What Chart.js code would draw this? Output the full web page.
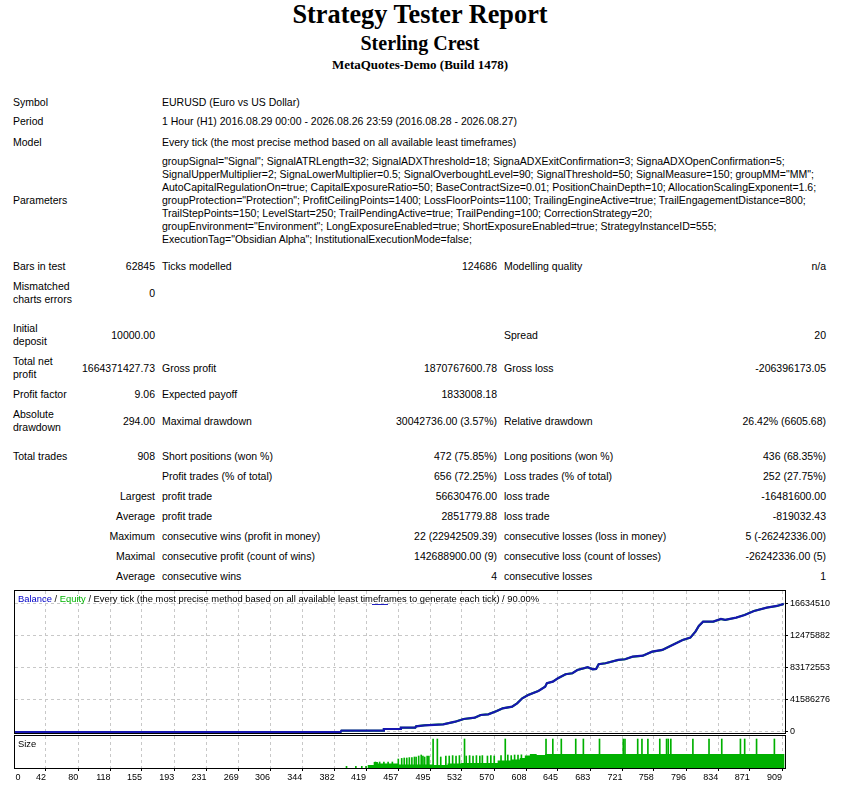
<!DOCTYPE html>
<html lang="en">
<head>
<meta charset="UTF-8">
<title>Strategy Tester Report</title>
<script src="https://cdn.jsdelivr.net/npm/chart.js@4.4.1/dist/chart.umd.min.js"></script>
<style>
  html, body { margin: 0; padding: 0; background: #fff; }
  body { position: relative; width: 848px; height: 786px; overflow: hidden;
         font-family: "Liberation Sans", Arial, sans-serif; font-size: 10.5px; color: #000; }
  .head { position: absolute; left: 0; width: 840px; text-align: center; line-height: 1; white-space: nowrap;
          font-family: "Liberation Serif", "Times New Roman", serif; font-weight: bold; }
  .cell { position: absolute; white-space: nowrap; line-height: 14px; }
  .cell.r { text-align: right; width: 300px; }
  canvas { position: absolute; left: 0; }
  .chartText { position: absolute; font-size: 9.4px; line-height: 12px; white-space: nowrap; }
</style>
</head>
<body>
<div class="head" style="top:1.5px;font-size:26.3px">Strategy Tester Report</div>
<div class="head" style="top:33px;font-size:20px">Sterling Crest</div>
<div class="head" style="top:57.5px;font-size:13px">MetaQuotes-Demo (Build 1478)</div>
<div id="report"></div>

<canvas id="balanceChart" width="848" height="166" style="top:580px"></canvas>
<canvas id="sizeChart" width="848" height="60" style="top:726px"></canvas>

<div class="chartText" style="left:18px;top:593px"><span style="color:#0000c8">Balance</span> / <span style="color:#00b400">Equity</span> / Every tick (the most precise method based on all available least timeframes to generate each tick) / 90.00%</div>
<div style="position:absolute;left:372px;top:604px;width:16px;height:1px;background:#2020c0"></div>
<div class="chartText" style="left:18px;top:738px">Size</div>
<div class="chartText" style="left:15.5px;top:771px;font-size:9px">0</div>

<script>
  // x axis: trade numbers shown under the size panel
  const tradeTicks = [0, 42, 80, 118, 155, 193, 231, 269, 306, 344, 382, 419, 457, 495, 532, 570, 608, 645, 683, 721, 758, 796, 834, 871, 909];
  // y axis of the balance panel (labels are cut to 8 digits in the report)
  const yTickValues = [0, 41586276, 83172552, 124758828, 166345104];
  const yTickLabels = ['0', '41586276', '83172553', '12475882', '16634510'];

  // balance curve
  const balanceTrades = [0, 389, 390, 439, 440, 459, 460, 477, 478, 488,
    510, 524, 534, 547, 554, 563, 573, 580, 591, 597,
    603, 610, 622, 630, 632, 639, 645, 654, 662, 668,
    680, 686, 690, 693, 701, 716, 724, 733, 745, 756,
    768, 780, 792, 801, 807, 811, 816, 828, 837, 842,
    855, 865, 876, 891, 903, 911];
  const balanceValues = [10000, 10000, 1700000, 1700000, 3900000, 3900000, 5600000, 5600000, 7400000, 8700000,
    10000000, 13400000, 16900000, 18600000, 22100000, 23000000, 27300000, 30800000, 32900000, 37300000,
    43800000, 48100000, 53300000, 58900000, 63300000, 65400000, 69800000, 75000000, 76300000, 80600000,
    84100000, 81500000, 81900000, 88000000, 89300000, 93600000, 94500000, 97900000, 99200000, 104400000,
    106600000, 113100000, 119600000, 122600000, 130400000, 137800000, 143400000, 143400000, 146900000, 145600000,
    148600000, 152100000, 157300000, 161600000, 163800000, 166400000];
  // equity runs under the balance line all the way
  const equityValues = balanceValues;

  // lot size: the running level and the single taller trades
  const levelTrades = [0, 421, 428, 433, 457, 498, 515, 531, 574, 590, 600, 606, 612, 620, 630, 912];
  const levelLots = [0, 0.15, 0.30, 0.22, 0.17, 0.15, 0.22, 0.25, 0.38, 0.42, 0.50, 0.62, 0.70, 0.65, 0.70, 0.70];
  const spikeTrades = [396, 407, 414, 419, 430, 435, 440, 445, 450,
    457, 461, 464, 467, 470, 473, 476, 478, 481, 484, 486, 488, 491, 493,
    498, 503, 507, 513, 517, 521, 525, 529, 535,
    537, 541, 545, 549, 553, 556, 562, 566, 570, 578, 583,
    586, 590, 594, 598, 602,
    631, 639, 649, 666, 675, 694, 722, 724, 739, 744, 751, 765, 773, 775, 778, 804, 823, 838, 860, 865, 879, 900];
  const spikeLots = [0.085, 0.085, 0.085, 0.085, 0.30, 0.30, 0.30, 0.30, 0.30,
    0.45, 0.48, 0.50, 0.50, 0.52, 0.52, 0.55, 0.55, 0.60, 0.65, 0.60, 0.55, 0.60, 0.60,
    1.45, 1.45, 0.55, 0.60, 0.60, 0.62, 0.60, 0.62, 1.45,
    0.60, 0.62, 0.60, 0.62, 0.60, 0.62, 0.60, 0.62, 0.60, 0.62, 1.45,
    0.65, 0.62, 0.65, 0.65, 0.66,
    1.45, 1.45, 1.45, 1.45, 1.45, 1.45, 1.45, 1.45, 1.45, 1.45, 1.45, 1.45, 1.45, 1.45, 1.45, 1.45, 1.45, 1.45, 1.45, 1.45, 1.45, 1.45];

  // ---- report text ----
  const paramLines = [
    'groupSignal="Signal"; SignalATRLength=32; SignalADXThreshold=18; SignaADXExitConfirmation=3; SignaADXOpenConfirmation=5;',
    'SignalUpperMultiplier=2; SignaLowerMultiplier=0.5; SignalOverboughtLevel=90; SignalThreshold=50; SignalMeasure=150; groupMM="MM";',
    'AutoCapitalRegulationOn=true; CapitalExposureRatio=50; BaseContractSize=0.01; PositionChainDepth=10; AllocationScalingExponent=1.6;',
    'groupProtection="Protection"; ProfitCeilingPoints=1400; LossFloorPoints=1100; TrailingEngineActive=true; TrailEngagementDistance=800;',
    'TrailStepPoints=150; LevelStart=250; TrailPendingActive=true; TrailPending=100; CorrectionStrategy=20;',
    'groupEnvironment="Environment"; LongExposureEnabled=true; ShortExposureEnabled=true; StrategyInstanceID=555;',
    'ExecutionTag="Obsidian Alpha"; InstitutionalExecutionMode=false;'
  ];
  const paramY = [161, 173.5, 186.5, 200, 213, 226, 238.5];

  const reportCells = [
    [13, 101.5, 'Symbol'], [162, 101.5, 'EURUSD (Euro vs US Dollar)'],
    [13, 121, 'Period'], [162, 121, '1 Hour (H1) 2016.08.29 00:00 - 2026.08.26 23:59 (2016.08.28 - 2026.08.27)'],
    [13, 141.5, 'Model'], [162, 141.5, 'Every tick (the most precise method based on all available least timeframes)'],
    [13, 200, 'Parameters'],
    [13, 266, 'Bars in test'], [155, 266, '62845', 'r'], [162, 266, 'Ticks modelled'], [497, 266, '124686', 'r'],
    [504, 266, 'Modelling quality'], [826, 266, 'n/a', 'r'],
    [13, 286, 'Mismatched'], [13, 299, 'charts errors'], [155, 293, '0', 'r'],
    [13, 328, 'Initial'], [13, 341, 'deposit'], [155, 335, '10000.00', 'r'], [504, 335, 'Spread'], [826, 335, '20', 'r'],
    [13, 361, 'Total net'], [13, 374, 'profit'], [155, 368, '1664371427.73', 'r'], [162, 368, 'Gross profit'],
    [497, 368, '1870767600.78', 'r'], [504, 368, 'Gross loss'], [826, 368, '-206396173.05', 'r'],
    [13, 394, 'Profit factor'], [155, 394, '9.06', 'r'], [162, 394, 'Expected payoff'], [497, 394, '1833008.18', 'r'],
    [13, 414, 'Absolute'], [13, 427, 'drawdown'], [155, 421, '294.00', 'r'], [162, 421, 'Maximal drawdown'],
    [497, 421, '30042736.00 (3.57%)', 'r'], [504, 421, 'Relative drawdown'], [826, 421, '26.42% (6605.68)', 'r'],
    [13, 456, 'Total trades'], [155, 456, '908', 'r'], [162, 456, 'Short positions (won %)'], [497, 456, '472 (75.85%)', 'r'],
    [504, 456, 'Long positions (won %)'], [826, 456, '436 (68.35%)', 'r'],
    [162, 476, 'Profit trades (% of total)'], [497, 476, '656 (72.25%)', 'r'],
    [504, 476, 'Loss trades (% of total)'], [826, 476, '252 (27.75%)', 'r'],
    [155, 496, 'Largest', 'r'], [162, 496, 'profit trade'], [497, 496, '56630476.00', 'r'],
    [504, 496, 'loss trade'], [826, 496, '-16481600.00', 'r'],
    [155, 516, 'Average', 'r'], [162, 516, 'profit trade'], [497, 516, '2851779.88', 'r'],
    [504, 516, 'loss trade'], [826, 516, '-819032.43', 'r'],
    [155, 536, 'Maximum', 'r'], [162, 536, 'consecutive wins (profit in money)'], [497, 536, '22 (22942509.39)', 'r'],
    [504, 536, 'consecutive losses (loss in money)'], [826, 536, '5 (-26242336.00)', 'r'],
    [155, 556, 'Maximal', 'r'], [162, 556, 'consecutive profit (count of wins)'], [497, 556, '142688900.00 (9)', 'r'],
    [504, 556, 'consecutive loss (count of losses)'], [826, 556, '-26242336.00 (5)', 'r'],
    [155, 576, 'Average', 'r'], [162, 576, 'consecutive wins'], [497, 576, '4', 'r'],
    [504, 576, 'consecutive losses'], [826, 576, '1', 'r']
  ];
  paramLines.forEach((line, i) => reportCells.push([162, paramY[i], line]));

  const report = document.getElementById('report');
  reportCells.forEach(([x, y, text, align]) => {
    const el = document.createElement('div');
    el.className = align === 'r' ? 'cell r' : 'cell';
    el.style.left = (align === 'r' ? x - 300 : x) + 'px';
    el.style.top = (y - 6.7) + 'px';
    el.textContent = text;
    report.appendChild(el);
  });

  // ---- charts ----
  Chart.defaults.font.family = '"Liberation Sans", Arial, sans-serif';
  Chart.defaults.font.size = 9;
  Chart.defaults.color = '#000';

  const framePlugin = {
    id: 'frame',
    afterDraw(chart) {
      const a = chart.chartArea;
      const ctx = chart.ctx;
      ctx.save();
      ctx.strokeStyle = '#000';
      ctx.lineWidth = 1;
      ctx.strokeRect(Math.round(a.left) - 0.5, Math.round(a.top) - 0.5,
        Math.round(a.right - a.left) + 1, Math.round(a.bottom - a.top) + 1);
      ctx.restore();
    }
  };

  const gridColor = '#c8c8c8';
  const xMin = 5.5, xMax = 912.5;
  const setTradeTicks = scale => { scale.ticks = tradeTicks.slice(1).map(v => ({ value: v })); };

  const toPoints = (xs, ys) => xs.map((x, i) => ({ x: x, y: ys[i] }));

  new Chart(document.getElementById('balanceChart'), {
    type: 'line',
    data: {
      datasets: [
        {
          label: 'Balance',
          data: toPoints(balanceTrades, balanceValues),
          borderColor: '#1616b0',
          borderWidth: 2.2,
          pointRadius: 0,
          order: 0
        },
        {
          label: 'Equity',
          data: toPoints(balanceTrades, equityValues),
          borderColor: '#00c000',
          borderWidth: 2,
          pointRadius: 0,
          order: 1
        }
      ]
    },
    options: {
      responsive: false,
      animation: false,
      events: [],
      layout: { padding: { left: 15, top: 11, right: 0, bottom: 13 } },
      plugins: { legend: { display: false }, tooltip: { enabled: false } },
      scales: {
        x: {
          type: 'linear',
          min: xMin,
          max: xMax,
          afterBuildTicks: setTradeTicks,
          afterFit: s => { s.height = 0; s.paddingLeft = 0; s.paddingRight = 0; },
          ticks: { display: false },
          grid: { color: gridColor, drawTicks: false },
          border: { display: false, dash: [3, 3] }
        },
        y: {
          position: 'right',
          min: -1300000,
          max: 183200000,
          afterBuildTicks: s => { s.ticks = yTickValues.map(v => ({ value: v })); },
          afterFit: s => { s.width = 63; s.paddingTop = 0; s.paddingBottom = 0; },
          ticks: { autoSkip: false, padding: 2, callback: (v, i) => yTickLabels[i] },
          grid: { color: gridColor, tickLength: 3, tickColor: '#000', tickBorderDash: [] },
          border: { display: false, dash: [3, 3] }
        }
      }
    },
    plugins: [framePlugin]
  });

  new Chart(document.getElementById('sizeChart'), {
    type: 'bar',
    data: {
      datasets: [
        {
          type: 'line',
          label: 'Size level',
          data: toPoints(levelTrades, levelLots),
          stepped: true,
          fill: 'origin',
          backgroundColor: '#00b000',
          borderWidth: 0,
          pointRadius: 0
        },
        {
          type: 'bar',
          label: 'Size',
          data: toPoints(spikeTrades, spikeLots),
          backgroundColor: '#00b000',
          barThickness: 1,
          grouped: false
        }
      ]
    },
    options: {
      responsive: false,
      animation: false,
      events: [],
      layout: { padding: { left: 15, top: 10, right: 0, bottom: 0 } },
      plugins: { legend: { display: false }, tooltip: { enabled: false } },
      scales: {
        x: {
          type: 'linear',
          min: xMin,
          max: xMax,
          offset: false,
          afterBuildTicks: setTradeTicks,
          afterFit: s => { s.height = 18; s.paddingLeft = 0; s.paddingRight = 0; },
          ticks: { align: 'end', maxRotation: 0, autoSkip: false, padding: 1, callback: (v, i) => String(tradeTicks[i + 1]) },
          grid: { color: gridColor, offset: false, tickLength: 3, tickColor: '#000', tickBorderDash: [] },
          border: { display: false, dash: [3, 3] }
        },
        y: {
          position: 'right',
          min: 0,
          max: 1.6,
          afterFit: s => { s.width = 63; s.paddingTop = 0; s.paddingBottom = 0; },
          ticks: { display: false },
          grid: { display: false },
          border: { display: false }
        }
      }
    },
    plugins: [framePlugin]
  });
</script>
</body>
</html>
